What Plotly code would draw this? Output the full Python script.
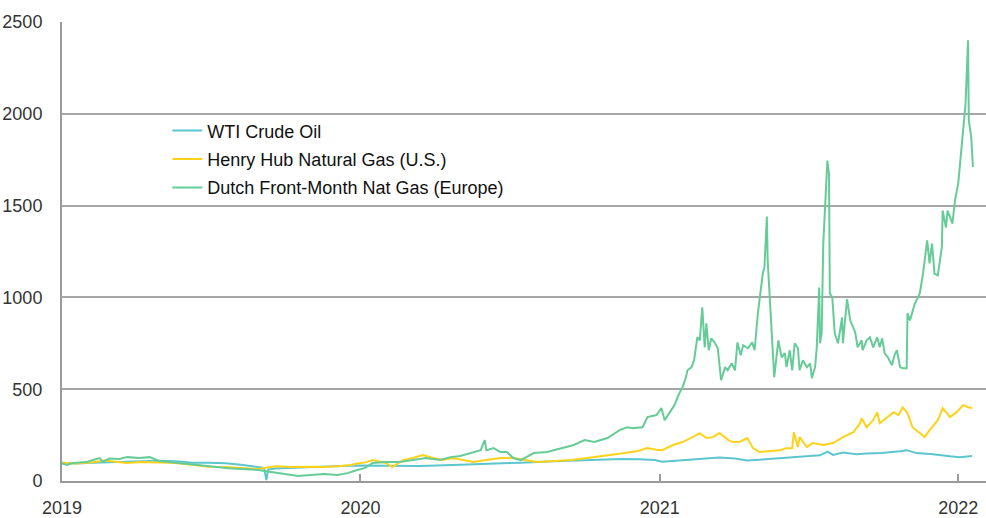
import plotly.graph_objects as go

# ---------------- data (indexed) ----------------
wti_dates = ["2019-01-01","2019-01-17","2019-02-08","2019-02-28","2019-03-21","2019-04-09","2019-04-30",
             "2019-05-20","2019-06-09","2019-06-29","2019-07-20","2019-08-08","2019-08-29","2019-09-05",
             "2019-09-08","2019-09-10","2019-09-19","2019-10-08","2019-10-29","2019-11-18","2019-12-08",
             "2019-12-28","2020-01-06","2020-02-01","2020-03-13","2020-04-23","2020-06-03","2020-07-15",
             "2020-08-25","2020-10-04","2020-11-15","2020-12-07","2020-12-26","2021-01-04","2021-01-19",
             "2021-02-03","2021-02-19","2021-03-15","2021-04-03","2021-04-18","2021-05-03","2021-05-16",
             "2021-06-09","2021-06-25","2021-07-16","2021-07-25","2021-08-01","2021-08-13","2021-08-30",
             "2021-09-11","2021-09-29","2021-10-22","2021-10-30","2021-11-11","2021-12-01","2021-12-22",
             "2022-01-03","2022-01-18"]
wti_values = [100,95,100,103,105,108,110,
              108,100,100,97,88,78,72,
              5,62,68,72,76,80,82,
              84,84,82,82,87,92,100,
              107,113,120,118,114,105,110,
              118,122,128,122,112,116,120,
              128,135,140,160,142,155,146,
              150,152,162,168,152,146,135,
              130,136]

hh_dates = ["2019-01-01","2019-01-19","2019-02-08","2019-02-22","2019-03-21","2019-04-09","2019-04-30",
            "2019-05-20","2019-06-09","2019-06-29","2019-07-20","2019-08-08","2019-08-29","2019-09-19",
            "2019-10-08","2019-10-29","2019-11-18","2019-12-08","2019-12-20","2019-12-28",
            "2020-01-06","2020-01-16","2020-02-01","2020-02-09","2020-02-22","2020-03-05","2020-03-17",
            "2020-03-30","2020-04-11","2020-04-23","2020-05-06","2020-05-18","2020-06-03","2020-06-20",
            "2020-07-06","2020-07-19","2020-08-04","2020-08-25","2020-09-15","2020-10-04","2020-10-25",
            "2020-11-15","2020-12-05","2020-12-17","2020-12-28",
            "2021-01-04","2021-01-17","2021-01-29","2021-02-10","2021-02-19","2021-02-27","2021-03-07",
            "2021-03-15","2021-03-26","2021-03-31","2021-04-09","2021-04-18","2021-04-25","2021-05-03",
            "2021-05-16","2021-05-28","2021-06-05","2021-06-12","2021-06-14","2021-06-19","2021-06-21",
            "2021-06-30","2021-07-07","2021-07-20","2021-08-01","2021-08-13","2021-08-26","2021-09-03",
            "2021-09-05","2021-09-11","2021-09-19","2021-09-24","2021-09-27","2021-10-07","2021-10-14",
            "2021-10-20","2021-10-25","2021-10-31","2021-11-06","2021-11-15","2021-11-21","2021-11-27",
            "2021-12-07","2021-12-13","2021-12-22","2021-12-30","2022-01-07","2022-01-13","2022-01-18"]
hh_values = [100,95,102,112,98,103,101,
             98,88,78,76,70,65,80,
             76,78,76,82,87,95,
             100,114,98,76,114,125,141,
             125,114,125,114,103,114,125,
             125,114,103,109,114,125,136,
             150,163,179,170,
             168,196,212,239,261,234,239,
             261,223,212,214,234,179,158,
             163,168,179,179,266,185,239,
             185,207,196,207,239,266,315,
             342,293,331,375,315,348,375,
             359,402,370,293,261,239,277,
             331,397,348,375,413,402,397]

ttf_dates = ["2019-01-01","2019-01-07","2019-01-14","2019-01-31","2019-02-08","2019-02-16","2019-02-20",
             "2019-02-28","2019-03-12","2019-03-22","2019-04-06","2019-04-18","2019-04-30","2019-05-12",
             "2019-05-28","2019-06-17","2019-07-08","2019-07-24","2019-08-08","2019-08-29","2019-09-14",
             "2019-10-01","2019-10-17","2019-11-01","2019-11-18","2019-12-04","2019-12-16","2019-12-28",
             "2020-01-06","2020-01-16","2020-02-01","2020-02-18","2020-03-05","2020-03-21","2020-04-07",
             "2020-04-20","2020-05-02","2020-05-14","2020-05-27","2020-06-01","2020-06-03","2020-06-12",
             "2020-06-20","2020-06-28","2020-07-06","2020-07-15","2020-07-31","2020-08-16","2020-09-02",
             "2020-09-18","2020-10-01","2020-10-13","2020-10-29","2020-11-13","2020-11-22","2020-11-29",
             "2020-12-11","2020-12-17","2020-12-28",
             "2021-01-03","2021-01-07","2021-01-13","2021-01-19","2021-01-25","2021-01-29","2021-02-02",
             "2021-02-04","2021-02-09","2021-02-12","2021-02-16","2021-02-19","2021-02-22","2021-02-25",
             "2021-02-27","2021-03-02","2021-03-05","2021-03-09","2021-03-13","2021-03-17","2021-03-22",
             "2021-03-25","2021-03-30","2021-04-03","2021-04-06","2021-04-10","2021-04-13","2021-04-19",
             "2021-04-24","2021-04-27","2021-05-01","2021-05-03","2021-05-07","2021-05-09","2021-05-12",
             "2021-05-13","2021-05-18","2021-05-21","2021-05-26","2021-05-30","2021-06-03","2021-06-05",
             "2021-06-09","2021-06-12","2021-06-15","2021-06-19","2021-06-21","2021-06-25","2021-06-30",
             "2021-07-04","2021-07-06","2021-07-10","2021-07-12","2021-07-15","2021-07-16","2021-07-18",
             "2021-07-20","2021-07-22","2021-07-25","2021-07-27","2021-07-28","2021-07-31","2021-08-03",
             "2021-08-07","2021-08-12","2021-08-13","2021-08-18","2021-08-22","2021-08-28","2021-08-31",
             "2021-09-05","2021-09-06","2021-09-11","2021-09-15","2021-09-19","2021-09-24","2021-09-27",
             "2021-09-30","2021-10-03","2021-10-07","2021-10-12","2021-10-15","2021-10-18","2021-10-22",
             "2021-10-25","2021-10-30","2021-10-31","2021-11-03","2021-11-06","2021-11-09","2021-11-11",
             "2021-11-15","2021-11-19","2021-11-24","2021-11-27","2021-11-30","2021-12-03","2021-12-07",
             "2021-12-12","2021-12-13","2021-12-17","2021-12-19","2021-12-25","2021-12-28","2022-01-01",
             "2022-01-04","2022-01-07","2022-01-10","2022-01-13","2022-01-14","2022-01-17","2022-01-19"]
ttf_values = [95,87,98,103,114,125,105,
              122,120,130,125,130,109,103,
              98,87,76,70,65,60,49,
              38,27,33,38,33,43,60,
              70,98,103,103,114,125,114,
              130,136,152,168,223,168,179,
              158,158,125,114,152,158,179,
              196,223,212,234,277,293,288,
              293,348,359,
              397,331,375,413,478,511,565,
              603,620,658,783,766,946,728,
              859,712,777,755,723,549,620,
              603,641,603,755,685,739,723,
              755,712,913,984,1130,1163,1440,
              1201,837,565,766,674,696,620,
              712,603,750,723,603,658,620,
              641,560,620,728,1054,750,804,
              1293,1489,1745,1674,1022,1000,804,
              750,891,750,990,875,810,728,
              766,712,766,783,728,783,728,
              777,696,674,630,685,712,620,
              614,614,913,875,929,967,984,
              1022,1130,1310,1185,1293,1130,1120,
              1272,1473,1380,1473,1402,1527,1620,
              1745,1908,2054,2400,1962,1870,1710]

series_names = ["WTI Crude Oil", "Henry Hub Natural Gas (U.S.)", "Dutch Front-Month Nat Gas (Europe)"]
series_colors = ["#5CC6CF", "#FFD21A", "#66CC97"]
y_ticks = [0, 500, 1000, 1500, 2000, 2500]
x_ticks = ["2019-01-01", "2020-01-01", "2021-01-01", "2022-01-01"]
x_tick_labels = ["2019", "2020", "2021", "2022"]

FONT = "Liberation Sans, Arial, sans-serif"

fig = go.Figure()
for i, (d, v) in enumerate([(wti_dates, wti_values), (hh_dates, hh_values), (ttf_dates, ttf_values)]):
    fig.add_trace(go.Scatter(
        x=d, y=v, mode="lines", name=series_names[i], legendgroup=f"g{i}",
        line=dict(color=series_colors[i], width=2),
    ))

fig.update_layout(
    width=986, height=518,
    margin=dict(l=62, r=0, t=22, b=37, autoexpand=False),
    paper_bgcolor="white", plot_bgcolor="white",
    font=dict(family=FONT, size=18, color="#333333"),
    showlegend=True,
    legend=dict(
        x=0.114, y=0.803, xanchor="left", yanchor="top",
        bgcolor="rgba(0,0,0,0)", borderwidth=0,
        font=dict(family=FONT, size=18, color="#111111"),
        tracegroupgap=2, itemwidth=30,
    ),
    xaxis=dict(
        type="date",
        range=["2019-01-01", "2022-02-04"],
        tickmode="array", tickvals=x_ticks, ticktext=x_tick_labels,
        showgrid=False, zeroline=False,
        showline=True, linecolor="#9A9A9A", linewidth=2,
        ticks="inside", ticklen=7, tickwidth=1.5, tickcolor="#9A9A9A",
        tickfont=dict(family=FONT, size=18, color="#333333"),
        ticklabelstandoff=9,
        automargin=False,
    ),
    yaxis=dict(
        range=[0, 2500],
        tickmode="array", tickvals=y_ticks,
        showgrid=True, gridcolor="#A6A6A6", gridwidth=1.6,
        zeroline=False,
        showline=True, linecolor="#9A9A9A", linewidth=2,
        ticks="", tickfont=dict(family=FONT, size=18, color="#333333"),
        ticklabelstandoff=14,
        automargin=False,
    ),
)

# remove the browser's default 8px body margin so the figure fills the window
fig.write_html("out.html", config={"displayModeBar": False},
               post_script="document.body.style.margin='0px';")
